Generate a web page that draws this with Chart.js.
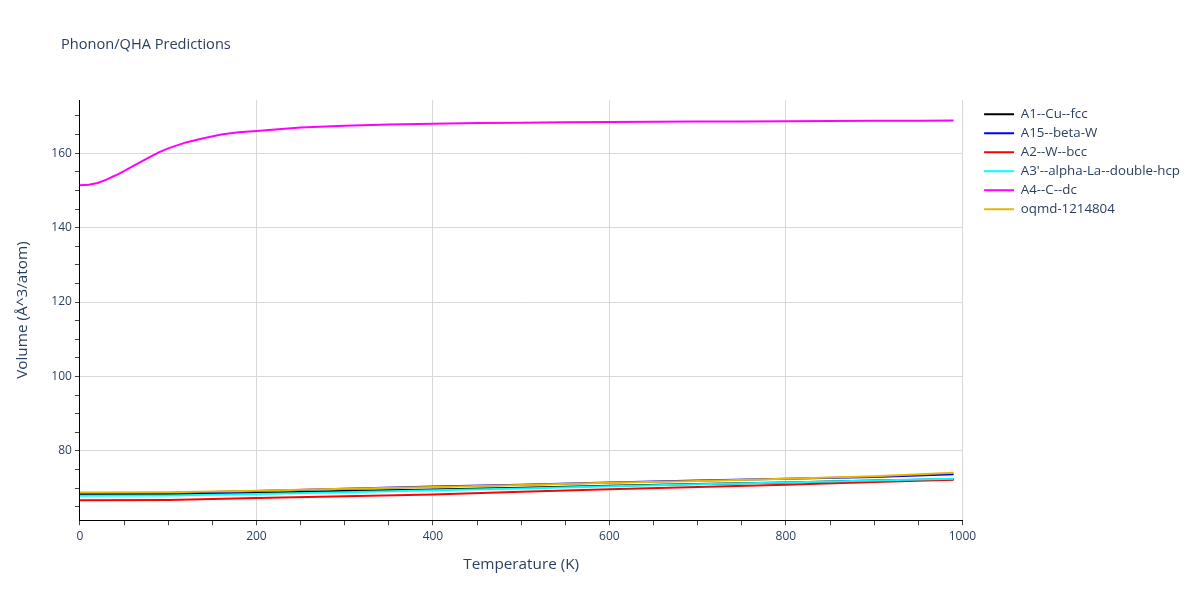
<!DOCTYPE html>
<html><head><meta charset="utf-8">
<script src="https://cdn.jsdelivr.net/npm/chart.js@4/dist/chart.umd.min.js"></script>
<style>html,body{margin:0;padding:0;background:#fff}#wrap{position:relative;width:1200px;height:600px}</style>
</head><body><div id="wrap"><canvas id="c" width="1200" height="600"></canvas></div>
<script>
const chartTitle = "Phonon/QHA Predictions";
const xTitle = "Temperature (K)";
const yTitle = "Volume (Å^3/atom)";
const seriesNames = ["A1--Cu--fcc", "A15--beta-W", "A2--W--bcc", "A3'--alpha-La--double-hcp", "A4--C--dc", "oqmd-1214804"];
const seriesColors = ["#000000", "#0000ff", "#ff0000", "#00ffff", "#ff00ff", "#e6b800"];

const tempsLow = [0, 100, 200, 300, 400, 500, 600, 700, 800, 900, 990];
const cuFcc   = [68.2, 68.3, 68.7, 69.2, 69.6, 70.1, 70.6, 71.1, 71.5, 72.0, 72.4];
const betaW   = [68.6, 68.7, 69.2, 69.8, 70.4, 70.9, 71.5, 72.0, 72.5, 73.0, 73.7];
const wBcc    = [66.7, 66.8, 67.3, 67.8, 68.3, 69.0, 69.7, 70.3, 70.9, 71.6, 72.2];
const laDhcp  = [67.9, 68.0, 68.4, 68.9, 69.4, 69.9, 70.5, 71.0, 71.5, 72.0, 72.5];
const oqmd    = [68.8, 68.9, 69.3, 69.8, 70.3, 70.8, 71.4, 71.9, 72.5, 73.2, 74.1];

const tempsDc = [0, 10, 20, 30, 40, 50, 60, 70, 80, 90, 100, 120, 140, 160, 180, 200, 250, 300, 350, 400, 450, 500, 550, 600, 650, 700, 750, 800, 850, 900, 950, 990];
const cDc     = [151.4, 151.5, 152.0, 152.9, 154.0, 155.2, 156.5, 157.8, 159.1, 160.3, 161.3, 162.9, 164.0, 165.0, 165.6, 166.0, 166.9, 167.4, 167.7, 167.95, 168.1, 168.2, 168.3, 168.4, 168.45, 168.5, 168.55, 168.6, 168.65, 168.7, 168.75, 168.8];

const xTicksMajor = [0, 200, 400, 600, 800, 1000];
const yTicksMajor = [80, 100, 120, 140, 160];

const seriesX = [tempsLow, tempsLow, tempsLow, tempsLow, tempsDc, tempsLow];
const seriesY = [cuFcc, betaW, wBcc, laDhcp, cDc, oqmd];

const FONT = '"Open Sans", "Noto Sans", sans-serif';
const TXT = '#2a3f5f';

const datasets = seriesNames.map((n, i) => ({
  label: n,
  data: seriesX[i].map((t, k) => ({x: t, y: seriesY[i][k]})),
  borderColor: seriesColors[i],
  backgroundColor: seriesColors[i],
  borderWidth: 2,
  pointRadius: 0,
  tension: 0,
  order: seriesNames.length - i
}));

const titlePlugin = {
  id: 'plotTitle',
  afterLayout(chart) {
    const lg = chart.legend;
    if (lg) { lg.left += 16; lg.right += 16; lg.top += 2; lg.bottom += 2; }
  },
  afterDraw(chart) {
    const c = chart.ctx;
    c.save();
    c.font = '14.6px ' + FONT;
    c.fillStyle = TXT;
    c.textBaseline = 'middle';
    c.textAlign = 'left';
    c.fillText(chartTitle, 61, 45);
    c.restore();
  }
};

new Chart(document.getElementById('c'), {
  type: 'line',
  data: { datasets },
  plugins: [titlePlugin],
  options: {
    responsive: false,
    animation: false,
    devicePixelRatio: 1,
    layout: { padding: { top: 100, left: 9, right: 26, bottom: 22 } },
    plugins: {
      title: { display: false },
      tooltip: { enabled: false },
      legend: {
        position: 'right',
        align: 'start',
        labels: {
          boxWidth: 30,
          boxHeight: 2,
          padding: 5.7,
          color: TXT,
          font: { size: 13.3, family: FONT },
          sort: (a, b) => a.datasetIndex - b.datasetIndex,
          generateLabels: chart => Chart.defaults.plugins.legend.labels.generateLabels(chart).map(l => Object.assign(l, { lineWidth: 0 }))
        }
      }
    },
    scales: {
      x: {
        type: 'linear',
        min: 0, max: 1000,
        ticks: {
          stepSize: 50,
          color: TXT,
          font: { size: 12, family: FONT },
          maxRotation: 0,
          autoSkip: false,
          padding: 4,
          callback: v => xTicksMajor.includes(v) ? String(v) : ''
        },
        grid: {
          color: ctx => (ctx.tick && xTicksMajor.includes(ctx.tick.value) && ctx.tick.value !== 0) ? '#d9d9d9' : 'rgba(0,0,0,0)',
          tickColor: '#444',
          tickLength: 5,
          drawTicks: true
        },
        border: { display: true, color: '#000', width: 1 },
        title: { display: true, text: xTitle, color: TXT, font: { size: 15.3, family: FONT }, padding: { top: 8 } }
      },
      y: {
        type: 'linear',
        min: 61.35, max: 174.3,
        afterBuildTicks: scale => {
          const t = [];
          for (let v = 65; v <= 174; v += 5) t.push({ value: v });
          scale.ticks = t;
        },
        ticks: {
          color: TXT,
          font: { size: 12, family: FONT },
          padding: 3,
          autoSkip: false,
          callback: v => yTicksMajor.includes(v) ? String(v) : ''
        },
        grid: {
          color: ctx => (ctx.tick && yTicksMajor.includes(ctx.tick.value)) ? '#d9d9d9' : 'rgba(0,0,0,0)',
          tickColor: '#444',
          tickLength: 5,
          drawTicks: true
        },
        border: { display: true, color: '#000', width: 1 },
        title: { display: true, text: yTitle, color: TXT, font: { size: 15.3, family: FONT }, padding: { bottom: 17 } }
      }
    }
  }
});
</script>
</body></html>
